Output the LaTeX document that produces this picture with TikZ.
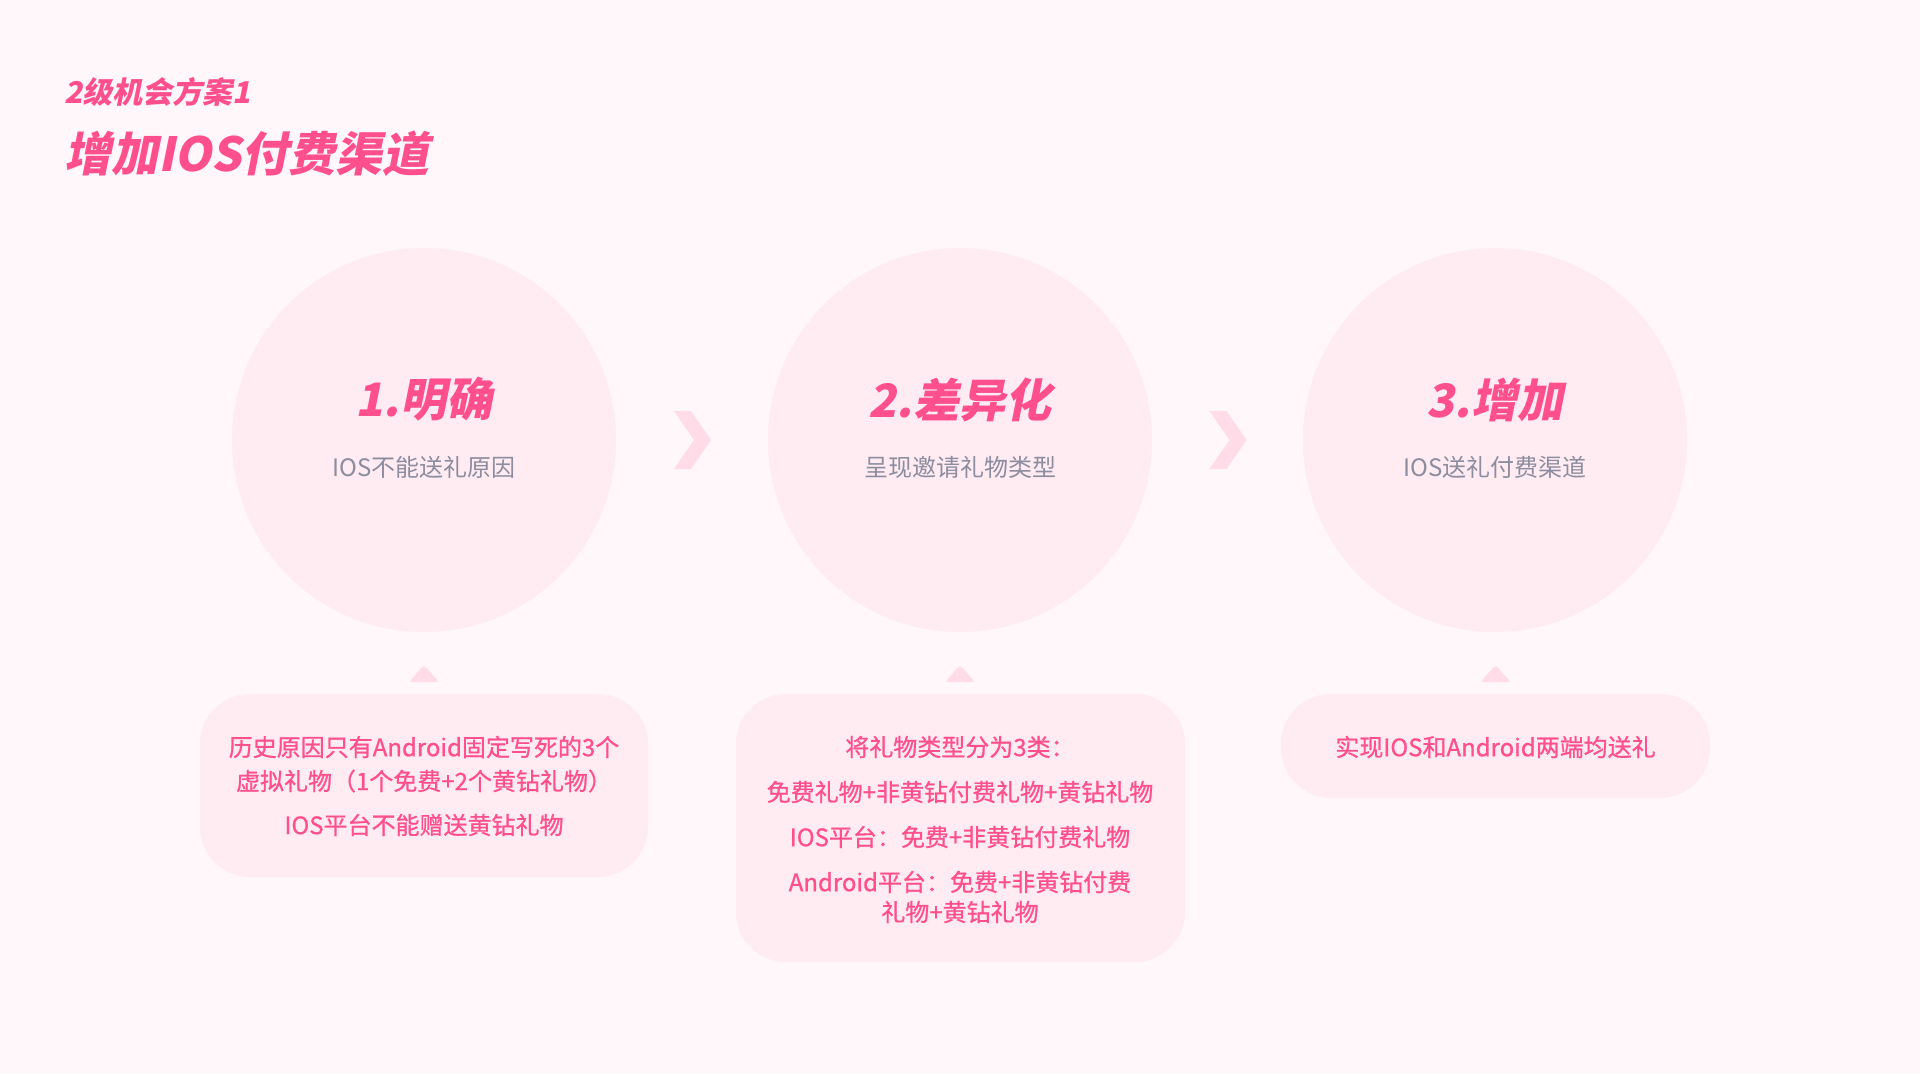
\documentclass[tikz,border=0pt]{standalone}
\usepackage{fontspec}
\setmainfont{Noto Sans CJK SC}
\newfontfamily\headfont[FakeSlant=0.2]{Noto Sans CJK SC}
\newfontfamily\bodyfont[FakeBold=0.8]{Noto Sans CJK SC}
\definecolor{bgc}{HTML}{FFF7FA}
\definecolor{circc}{HTML}{FFEBF2}
\definecolor{chevc}{HTML}{FFDCE8}
\definecolor{pinkc}{HTML}{FF4F8D}
\definecolor{grayc}{HTML}{8C8D9E}
\tikzset{
  stepcirc/.style={circle, fill=circc, minimum size=192pt, inner sep=0pt},
  infobox/.style={rectangle, rounded corners=25pt, fill=circc, inner sep=0pt},
  steptitle/.style={text=pinkc, inner sep=0pt, font=\headfont\bfseries\fontsize{23pt}{26pt}\selectfont},
  stepsub/.style={text=grayc, inner sep=0pt, font=\fontsize{12pt}{14pt}\selectfont},
  boxtxt/.style={text=pinkc, inner sep=0pt, font=\bodyfont\fontsize{12pt}{14pt}\selectfont},
  chevshape/.style={fill=chevc},
}
\begin{document}
\begin{tikzpicture}[x=0.5pt,y=-0.5pt]
\useasboundingbox (0,0) rectangle (1920,1073);
\fill[bgc] (0,0) rectangle (1920,1073);

% headings
\node[anchor=west, text=pinkc, inner sep=0pt, font=\headfont\bfseries\fontsize{15pt}{18pt}\selectfont] (sub) at (64,92) {2级机会方案1};
\node[anchor=west, text=pinkc, inner sep=0pt, font=\headfont\bfseries\fontsize{23.5pt}{27pt}\selectfont] (head) at (64,154) {增加IOS付费渠道};

% circles
\node[stepcirc] (c1) at (424,440) {};
\node[stepcirc] (c2) at (960,440) {};
\node[stepcirc] (c3) at (1495,440) {};

\node[steptitle] (t1) at (424,399) {1.明确};
\node[steptitle] (t2) at (960,400) {2.差异化};
\node[steptitle] (t3) at (1495,400) {3.增加};

\node[stepsub] (s1) at (424,467) {IOS不能送礼原因};
\node[stepsub] (s2) at (960,467) {呈现邀请礼物类型};
\node[stepsub] (s3) at (1495,467) {IOS送礼付费渠道};

% chevrons
\foreach \m in {692,1227.5}{
  \fill[chevshape] ({\m-18},411) -- ({\m-1},411) -- ({\m+19},440) -- ({\m-1},469) -- ({\m-18},469) -- ({\m+2},440) -- cycle;
}

% small triangles
\foreach \cx in {424,960,1495.5}{
  \fill[chevshape, rounded corners=1.5pt] (\cx,665) -- ({\cx+15},682) -- ({\cx-15},682) -- cycle;
}

% boxes
\node[infobox, minimum width=224pt, minimum height=91.5pt] (b1) at (424,785.5) {};
\node[infobox, minimum width=224.5pt, minimum height=134pt] (b2) at (960.5,828) {};
\node[infobox, minimum width=214.5pt, minimum height=52pt] (b3) at (1495.5,746) {};

\node[boxtxt] (l11) at (424,747) {历史原因只有Android固定写死的3个};
\node[boxtxt] (l12) at (424,781) {虚拟礼物（1个免费+2个黄钻礼物）};
\node[boxtxt] (l13) at (424,825) {IOS平台不能赠送黄钻礼物};

\node[boxtxt] (l21) at (960,747) {将礼物类型分为3类：};
\node[boxtxt] (l22) at (960,792) {免费礼物+非黄钻付费礼物+黄钻礼物};
\node[boxtxt] (l23) at (960,837) {IOS平台：免费+非黄钻付费礼物};
\node[boxtxt] (l24) at (960,882) {Android平台：免费+非黄钻付费};
\node[boxtxt] (l25) at (960,912) {礼物+黄钻礼物};

\node[boxtxt] (l31) at (1495.5,747) {实现IOS和Android两端均送礼};
\end{tikzpicture}
\end{document}
